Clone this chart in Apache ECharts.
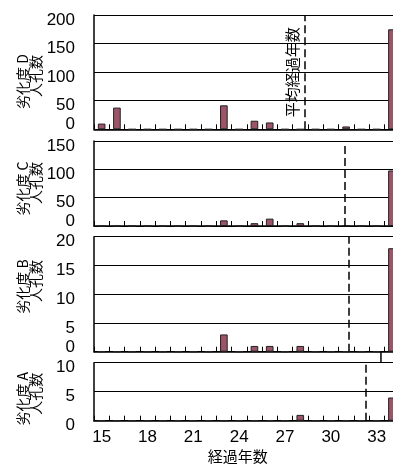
<!DOCTYPE html>
<html><head><meta charset="utf-8">
<script src="https://cdn.jsdelivr.net/npm/echarts@6/dist/echarts.min.js"></script>
<style>html,body{margin:0;padding:0;background:#fff}#c{width:393px;height:464px}</style>
</head><body><div id="c"></div>
<script>
// Categories (elapsed years)
const years = ['15','16','17','18','19','20','21','22','23','24','25','26','27','28','29','30','31','32','33','34'];
// Manhole counts per degradation level (panels top to bottom: D, C, B, A)
const degD = [10,38,0,0,0,0,0,0,42,0,15,12,0,0,0,0,5,0,0,175];
const degC = [0,0,0,0,0,0,0,0,10,0,5,13,0,5,0,0,1,0,0,98];
const degB = [0,0,0,0,0,0,0,0,3,0,1,1,0,1,0,0,0,0,0,18];
const degA = [0,0,0,0,0,0,0,0,0,0,0,0,0,1,0,0,0,0,0,4];
// Average elapsed years (dashed lines)
const avgYears = [28.3, 30.9, 31.2, 32.3];
// Axis settings
const yMax = [200, 150, 20, 10];
const yInterval = [50, 50, 5, 5];
const levelNames = ['劣化度 D', '劣化度 C', '劣化度 B', '劣化度 A'];
const countName = '人孔数';
const avgLabel = '平均経過年数';
const xTitle = '経過年数';

const seriesData = [degD, degC, degB, degA];
const FONT = '"Liberation Sans", Arial, "Noto Sans CJK JP", sans-serif';
const CJK = '"Noto Sans CJK JP", sans-serif';

const gridTops = [15, 141, 236.7, 362.7];
const gridHeights = [114.3, 85, 115, 58];
const gridLeft = 94, gridWidth = 305.6;

const chart = echarts.init(document.getElementById('c'));
const grids = [], xAxes = [], yAxes = [], series = [];
for (let i = 0; i < 4; i++) {
  grids.push({left: gridLeft, top: gridTops[i], width: gridWidth, height: gridHeights[i],
              containLabel: false, outerBoundsMode: 'none'});
  const last = i === 3;
  xAxes.push({
    type: 'category', gridIndex: i, data: years, boundaryGap: true,
    axisLine: {show: true, lineStyle: {color: '#000', width: 1.5}},
    axisTick: {show: true, inside: true, length: 5, interval: 0, lineStyle: {color: '#000', width: 1}},
    axisLabel: {show: last, interval: 2, margin: 8, fontSize: 17, color: '#000', fontFamily: FONT},
    splitLine: {show: false},
    name: last ? xTitle : '', nameLocation: 'middle', nameGap: 28,
    nameTextStyle: {fontSize: 15, color: '#000', fontFamily: CJK, padding: [0, 18, 0, 0]}
  });
  yAxes.push({
    type: 'value', gridIndex: i, min: 0, max: yMax[i], interval: yInterval[i],
    axisLine: {show: true, lineStyle: {color: '#000', width: 1.5}},
    axisTick: {show: false},
    splitLine: {show: true, lineStyle: {color: '#000', width: 1}},
    axisLabel: {
      margin: 19, fontSize: 17, color: '#000', fontFamily: FONT,
      formatter: (v) => (v === 0 && !last) ? '{z|0}' : '{n|' + v + '}',
      rich: {
        n: {fontSize: 17, fontFamily: FONT, color: '#000', padding: [10, 0, 0, 0]},
        z: {fontSize: 17, fontFamily: FONT, color: '#000', padding: [0, 0, 9, 0]}
      }
    }
  });
  series.push({
    type: 'bar', xAxisIndex: i, yAxisIndex: i, data: seriesData[i], barWidth: '50%',
    itemStyle: {color: '#9b5468', borderColor: '#222', borderWidth: 1},
    silent: true
  });
}
// hidden value axes for average-year dashed lines
for (let i = 0; i < 4; i++) {
  xAxes.push({type: 'value', gridIndex: i, min: 14.5, max: 34.5, show: false});
  series.push({
    type: 'line', xAxisIndex: 4 + i, yAxisIndex: i, data: [], symbol: 'none', silent: true,
    markLine: {
      symbol: 'none', silent: true, animation: false,
      lineStyle: {color: '#000', type: [8, 4], width: 1.5},
      label: i === 0 ? {show: true, formatter: avgLabel, position: 'insideMiddleTop', distance: 5,
                        fontSize: 15, color: '#000', fontFamily: CJK} : {show: false},
      data: [{xAxis: avgYears[i]}]
    }
  });
}

const graphic = [];
const line1Spans = [[53, 110], [160, 217], [258, 315], [370.7, 426.7]];
for (let i = 0; i < 4; i++) {
  const s = line1Spans[i];
  graphic.push({type: 'text', x: 22.5, y: (s[0] + s[1]) / 2, rotation: Math.PI / 2,
    style: {text: levelNames[i], font: '14px ' + CJK, fill: '#000', align: 'center', verticalAlign: 'middle'}});
  graphic.push({type: 'text', x: 36, y: s[0] + 2, rotation: Math.PI / 2,
    style: {text: countName, font: '14px ' + CJK, fill: '#000', align: 'right', verticalAlign: 'middle'}});
}

chart.setOption({
  animation: false,
  grid: grids, xAxis: xAxes, yAxis: yAxes, series: series, graphic: graphic
});
// small connector segment between panel B and A
const p = chart.convertToPixel({xAxisIndex: 7, yAxisIndex: 3}, [33.28, 10]);
const q = chart.convertToPixel({xAxisIndex: 6, yAxisIndex: 2}, [33.28, 0]);
graphic.push({type: 'line', shape: {x1: p[0], y1: q[1], x2: p[0], y2: p[1]}, style: {stroke: '#000', lineWidth: 1.5}});
chart.setOption({graphic: graphic});
</script></body></html>
